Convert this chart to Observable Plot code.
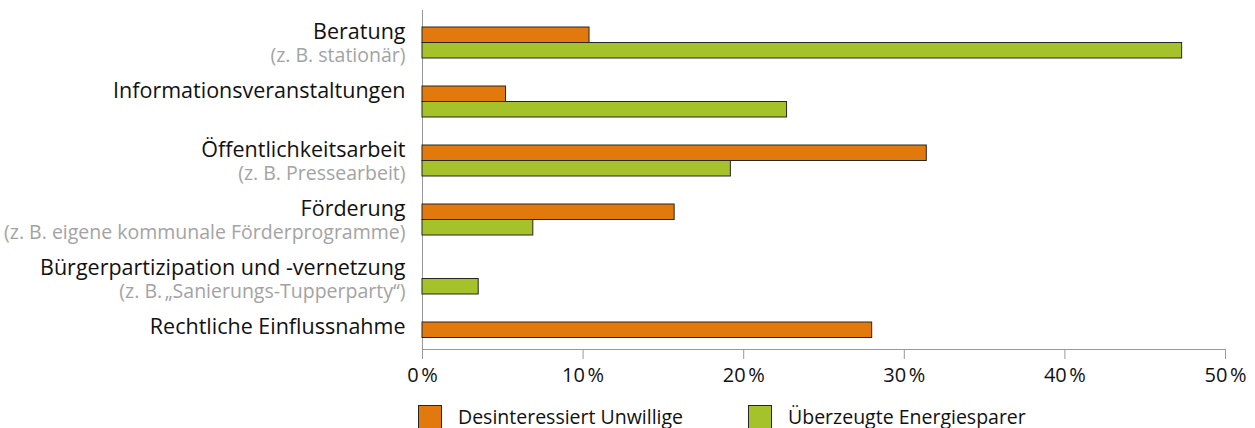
<!DOCTYPE html>
<html lang="de">
<head>
<meta charset="utf-8">
<title>Maßnahmen nach Zielgruppe</title>
<script src="https://cdn.jsdelivr.net/npm/d3@7"></script>
<script src="https://cdn.jsdelivr.net/npm/@observablehq/plot@0.6"></script>
<style>
  html, body { margin: 0; padding: 0; background: #fff; }
  body { width: 1255px; height: 428px; overflow: hidden; font-family: "Open Sans", sans-serif; }
  #legend { position: relative; height: 33px; margin-top: 10px; }
  .item { position: absolute; top: 0; height: 24px; }
  .swatch { position: absolute; top: 0; left: 0; width: 22px; height: 22px; border: 1px solid #262626; }
  .label { position: absolute; top: 0; white-space: nowrap; font-size: 19.5px; line-height: 24px; color: #111; }
</style>
</head>
<body>
<div id="chart"></div>
<div id="legend"></div>
<script>
// Maßnahmen und ihre Eignung je Zielgruppe (Anteile in Prozent)
const categories = [
  "Beratung",
  "Informationsveranstaltungen",
  "Öffentlichkeitsarbeit",
  "Förderung",
  "Bürgerpartizipation und -vernetzung",
  "Rechtliche Einflussnahme"
];
const subLabels = [
  "(z. B. stationär)",
  "",
  "(z. B. Pressearbeit)",
  "(z. B. eigene kommunale Förderprogramme)",
  "(z. B.\u202F„Sanierungs-Tupperparty“)",
  ""
];
const seriesNames = ["Desinteressiert Unwillige", "Überzeugte Energiesparer"];
const desinteressiert = [10.4, 5.2, 31.4, 15.7, null, 28.0];
const ueberzeugt = [47.3, 22.7, 19.2, 6.9, 3.5, null];
const xTicks = [0, 10, 20, 30, 40, 50];

const colors = ["#e2790c", "#a6c22a"];
const barStroke = "#262626";
const axisGray = "#999999";

const rowsFor = (values) => categories
  .map((category, i) => ({category, value: values[i]}))
  .filter(d => d.value != null);

const labelRows = categories.map((category, i) => ({category, sub: subLabels[i]}));

// Grundlinie der x-Achse über die volle Skalenbreite
const baseline = (index, scales, values, dimensions) => {
  const {height, marginBottom} = dimensions;
  const [x0, x1] = scales.x.domain ? scales.x.domain() : [xTicks[0], xTicks.at(-1)];
  const y = height - marginBottom + 0.5;
  return d3.create("svg:line")
    .attr("x1", scales.x(x0)).attr("x2", scales.x(x1))
    .attr("y1", y).attr("y2", y)
    .attr("stroke", axisGray)
    .node();
};

const chart = Plot.plot({
  width: 1255,
  height: 395,
  marginLeft: 422,
  marginRight: 30,
  marginTop: 10,
  marginBottom: 46,
  style: {fontFamily: "'Open Sans', sans-serif", background: "white", color: "#111"},
  x: {domain: [0, 50]},
  y: {domain: categories, range: [26, 353.3], paddingInner: 0.477, paddingOuter: 0, axis: null},
  marks: [
    Plot.ruleX([0], {stroke: axisGray}),
    baseline,
    Plot.axisX({
      ticks: xTicks,
      tickFormat: d => `${d}\u202F%`,
      tickSize: 10,
      tickPadding: 8,
      fontSize: 20,
      stroke: axisGray,
      label: null
    }),
    Plot.barX(rowsFor(desinteressiert), {
      x: "value", y: "category", fill: colors[0], stroke: barStroke, strokeWidth: 1, insetBottom: 15.5
    }),
    Plot.barX(rowsFor(ueberzeugt), {
      x: "value", y: "category", fill: colors[1], stroke: barStroke, strokeWidth: 1, insetTop: 15.5
    }),
    Plot.text(labelRows, {
      y: "category", text: "category", frameAnchor: "left", textAnchor: "end",
      dx: -17, dy: -10.9, fontSize: 21.5, fill: "#111"
    }),
    Plot.text(labelRows.filter(d => d.sub), {
      y: "category", text: "sub", frameAnchor: "left", textAnchor: "end",
      dx: -17, dy: 12.4, fontSize: 19.5, fill: "#a3a3a3"
    })
  ]
});
document.getElementById("chart").append(chart);

// Legende unter dem Diagramm
const legendLeft = [418, 748];
const legend = document.getElementById("legend");
seriesNames.forEach((name, i) => {
  const item = document.createElement("div");
  item.className = "item";
  item.style.left = legendLeft[i] + "px";
  const sw = document.createElement("div");
  sw.className = "swatch";
  sw.style.background = colors[i];
  const lab = document.createElement("div");
  lab.className = "label";
  lab.style.left = "40px";
  lab.textContent = name;
  item.append(sw, lab);
  legend.append(item);
});
</script>
</body>
</html>
